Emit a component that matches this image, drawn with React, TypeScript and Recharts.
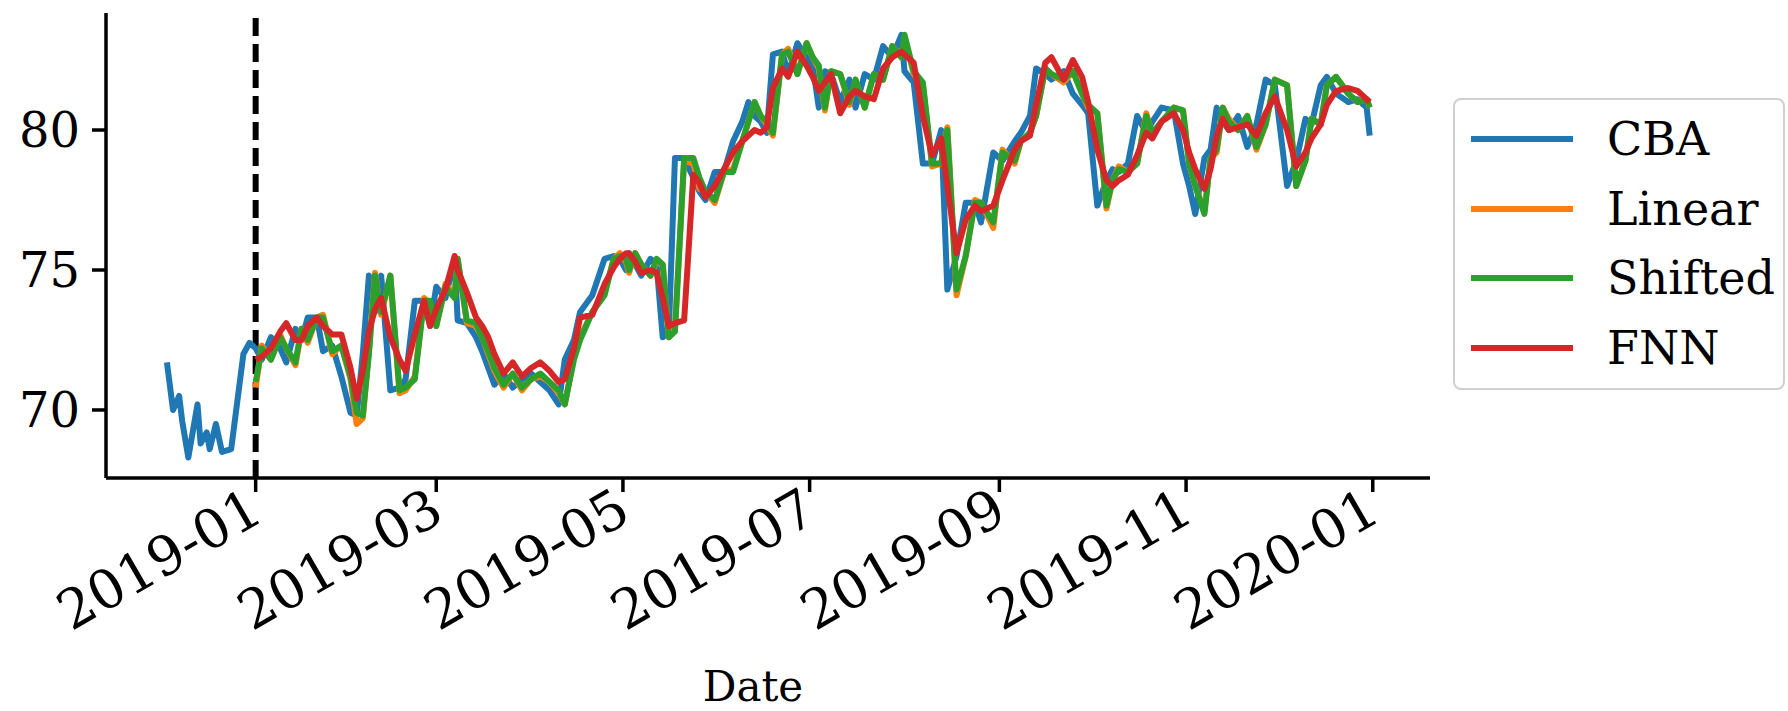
import { LineChart, Line, XAxis, YAxis, ReferenceLine } from "recharts";

const FONT = "'DejaVu Serif', serif";

// day offsets from 2019-01-01
const preDays = [-29, -27, -25, -24, -22, -19, -18, -16, -15, -13, -11, -8, -4, -2];
const preCba = [71.7, 70.0, 70.5, 69.6, 68.3, 70.2, 68.8, 69.2, 68.6, 69.5, 68.5, 68.6, 72.0, 72.4];

const days = [
  0, 2, 5, 8, 10, 13, 15, 17, 20, 22,
  25, 28, 31, 33, 35, 37, 39, 41, 44, 47,
  49, 52, 55, 57, 59, 62, 65, 66, 69, 72,
  74, 76, 78, 81, 84, 87, 90, 93, 96, 99,
  101, 104, 106, 110, 114, 117, 119, 121, 122, 124,
  126, 129, 131, 133, 135, 137, 140, 143, 145, 147,
  150, 153, 156, 159, 161, 163, 165, 167, 169, 172,
  174, 177, 180, 182, 184, 186, 188, 191, 194, 196,
  199, 202, 205, 208, 211, 212, 215, 218, 221, 224,
  226, 229, 232, 235, 237, 241, 244, 248, 250, 253,
  255, 258, 260, 264, 267, 270, 272, 275, 278, 280,
  282, 285, 288, 291, 293, 296, 300, 303, 305, 307,
  310, 312, 314, 316, 318, 321, 324, 327, 330, 333,
  337, 340, 343, 345, 348, 350, 353, 357, 360, 363,
  364,
];

const cba = [
  72.2, 71.8, 72.6, 72.2, 71.7, 72.9, 72.5, 73.3, 73.3, 72.1,
  72.3, 71.2, 69.9, 69.8, 72.0, 74.8, 73.5, 74.8, 70.7, 70.8,
  71.1, 73.9, 73.9, 73.0, 74.4, 74.0, 75.4, 73.2, 73.1, 72.6,
  72.1, 71.5, 70.9, 71.3, 70.8, 71.1, 71.3, 71.0, 70.7, 70.2,
  71.8, 72.5, 73.5, 74.1, 75.4, 75.5, 75.4, 75.0, 75.6, 75.2,
  74.8, 75.4, 75.2, 72.6, 72.8, 79.0, 79.0, 78.3, 77.8, 77.5,
  78.5, 78.5, 79.6, 80.3, 81.0, 80.5, 80.3, 79.9, 82.7, 82.8,
  82.0, 83.1, 82.6, 82.3, 80.8, 82.1, 82.0, 81.0, 81.8, 80.8,
  82.0, 81.8, 83.0, 82.6, 83.4, 82.1, 81.7, 78.8, 78.8, 80.0,
  74.3, 75.5, 77.4, 77.4, 76.7, 79.2, 78.9, 79.6, 79.9, 80.5,
  82.2, 82.0, 81.8, 82.1, 81.3, 80.9, 80.6, 77.3, 78.2, 78.6,
  78.5, 78.8, 80.5, 79.9, 80.3, 80.8, 80.7, 78.8, 78.0, 77.0,
  79.0, 79.3, 80.8, 80.3, 80.0, 80.5, 79.4, 80.2, 81.8, 81.6,
  78.0, 78.9, 80.4, 80.2, 81.6, 81.9, 81.3, 81.0, 81.1, 80.8,
  79.8,
];

const linear = [
  70.8, 72.3, 71.8, 72.7, 72.2, 71.6, 72.9, 72.4, 73.3, 73.4,
  72.0, 72.3, 71.1, 69.5, 69.7, 72.1, 74.9, 73.4, 74.8, 70.6,
  70.7, 71.2, 74.0, 73.8, 73.0, 74.5, 74.1, 75.4, 73.1, 73.0,
  72.6, 72.0, 71.4, 70.8, 71.3, 70.7, 71.1, 71.2, 71.0, 70.6,
  70.2, 71.9, 72.6, 73.5, 74.2, 75.4, 75.6, 75.3, 74.9, 75.6,
  75.2, 74.8, 75.3, 75.2, 72.6, 72.9, 78.9, 78.8, 77.9, 77.8,
  77.4, 78.5, 78.6, 79.6, 80.3, 81.0, 80.5, 80.2, 79.8, 82.7,
  82.9, 82.0, 83.1, 82.6, 82.2, 80.7, 82.1, 82.0, 80.9, 81.8,
  80.8, 82.0, 81.8, 83.0, 82.6, 83.3, 82.0, 81.6, 78.7, 78.8,
  80.1, 74.1, 75.5, 77.5, 77.4, 76.5, 79.3, 78.8, 79.6, 79.9,
  80.5, 82.2, 82.0, 81.7, 82.1, 81.3, 80.8, 80.6, 77.2, 78.2,
  78.7, 78.5, 78.8, 80.6, 79.8, 80.3, 80.8, 80.7, 78.8, 78.0,
  77.1, 79.0, 79.2, 80.8, 80.4, 80.0, 80.5, 79.3, 80.2, 81.8,
  81.6, 78.0, 78.9, 80.4, 80.2, 81.6, 81.9, 81.3, 81.0, 81.1,
  80.8,
];

const shifted = [
  71.0, 72.2, 71.8, 72.6, 72.2, 71.7, 72.9, 72.5, 73.3, 73.3,
  72.1, 72.3, 71.2, 69.9, 69.8, 72.0, 74.8, 73.5, 74.8, 70.7,
  70.8, 71.1, 73.9, 73.9, 73.0, 74.4, 74.0, 75.4, 73.2, 73.1,
  72.6, 72.1, 71.5, 70.9, 71.3, 70.8, 71.1, 71.3, 71.0, 70.7,
  70.2, 71.8, 72.5, 73.5, 74.1, 75.4, 75.5, 75.4, 75.0, 75.6,
  75.2, 74.8, 75.4, 75.2, 72.6, 72.8, 79.0, 79.0, 78.3, 77.8,
  77.5, 78.5, 78.5, 79.6, 80.3, 81.0, 80.5, 80.3, 79.9, 82.7,
  82.8, 82.0, 83.1, 82.6, 82.3, 80.8, 82.1, 82.0, 81.0, 81.8,
  80.8, 82.0, 81.8, 83.0, 82.6, 83.4, 82.1, 81.7, 78.8, 78.8,
  80.0, 74.3, 75.5, 77.4, 77.4, 76.7, 79.2, 78.9, 79.6, 79.9,
  80.5, 82.2, 82.0, 81.8, 82.1, 81.3, 80.9, 80.6, 77.3, 78.2,
  78.6, 78.5, 78.8, 80.5, 79.9, 80.3, 80.8, 80.7, 78.8, 78.0,
  77.0, 79.0, 79.3, 80.8, 80.3, 80.0, 80.5, 79.4, 80.2, 81.8,
  81.6, 78.0, 78.9, 80.4, 80.2, 81.6, 81.9, 81.3, 81.0, 81.1,
  80.8,
];

const fnn = [
  71.8, 71.9, 72.2, 72.8, 73.1, 72.5, 72.5, 73.0, 73.3, 73.0,
  72.7, 72.7, 71.5, 70.4, 71.4, 72.8, 73.6, 74.0, 72.6, 71.8,
  71.4, 72.7, 73.9, 73.0, 73.6, 74.3, 75.5, 75.0, 74.2, 73.3,
  73.0, 72.6, 72.0, 71.3, 71.7, 71.2, 71.5, 71.7, 71.4, 71.0,
  71.1, 72.2, 73.3, 73.4, 74.5, 75.1, 75.4, 75.6, 75.6, 75.3,
  74.9, 75.0, 74.9, 74.0, 73.0, 73.1, 73.2, 78.4, 78.1, 77.6,
  78.0, 78.6, 79.2, 79.6, 79.8, 80.0, 79.9, 80.1, 81.5, 82.2,
  81.9, 82.8, 82.3, 81.9, 81.4, 81.7, 82.0, 80.6, 81.2, 81.4,
  81.2, 81.1, 82.2, 82.6, 82.8, 82.7, 82.4, 80.5, 79.1, 79.7,
  78.0, 75.6, 76.8, 77.3, 77.1, 77.3, 78.2, 79.3, 79.6, 79.8,
  80.9, 82.4, 82.6, 81.8, 82.5, 81.9, 81.0, 79.3, 78.2, 78.0,
  78.2, 78.4, 79.1, 79.9, 79.7, 80.3, 80.6, 80.0, 79.2, 78.6,
  77.9, 78.6, 79.8, 80.4, 80.0, 80.1, 80.2, 79.8, 80.6, 81.2,
  80.0, 78.7, 79.2, 79.7, 80.2, 80.9, 81.4, 81.5, 81.4, 81.1,
  81.0,
];

const tickDays = [0, 59, 120, 181, 243, 304, 365];
const tickLabels = ["2019-01", "2019-03", "2019-05", "2019-07", "2019-09", "2019-11", "2020-01"];
const yTicks = [70, 75, 80];

const series = [
  { key: "cba", name: "CBA", color: "#1f77b4" },
  { key: "linear", name: "Linear", color: "#ff7f0e" },
  { key: "shifted", name: "Shifted", color: "#2ca02c" },
  { key: "fnn", name: "FNN", color: "#d62728" },
];

const data = [
  ...preDays.map((d, i) => ({ day: d, cba: preCba[i], linear: null, shifted: null, fnn: null })),
  ...days.map((d, i) => ({
    day: d,
    cba: cba[i],
    linear: linear[i],
    shifted: shifted[i],
    fnn: fnn[i],
  })),
];

const DateTick = ({ x, y, payload }: any) => {
  const idx = tickDays.indexOf(payload.value);
  return (
    <g transform={`translate(${x},${y})`}>
      <text
        x={0}
        y={0}
        dy={20}
        textAnchor="end"
        transform="rotate(-30)"
        fontSize={54}
        fontFamily={FONT}
        fill="#000"
      >
        {idx >= 0 ? tickLabels[idx] : ""}
      </text>
    </g>
  );
};

const DateLabel = ({ viewBox }: any) => (
  <text
    x={viewBox.x + viewBox.width / 2 - 15}
    y={701}
    textAnchor="middle"
    fontSize={42}
    fontFamily={FONT}
    fill="#000"
  >
    Date
  </text>
);

const LegendBox = () => (
  <div
    style={{
      position: "absolute",
      left: 1453,
      top: 98,
      width: 332,
      height: 292,
      border: "2px solid #d0d0d0",
      borderRadius: 8,
      background: "rgba(255,255,255,0.8)",
      boxSizing: "border-box",
      fontFamily: FONT,
      fontSize: 46,
    }}
  >
    {series.map((s, i) => (
      <div
        key={s.key}
        style={{
          position: "absolute",
          left: 16,
          top: 39 + i * 69.5 - 26,
          height: 52,
          display: "flex",
          alignItems: "center",
          whiteSpace: "nowrap",
        }}
      >
        <span style={{ display: "inline-block", width: 102, height: 6, background: s.color, marginRight: 34 }} />
        <span style={{ color: "#000", lineHeight: "52px" }}>{s.name}</span>
      </div>
    ))}
  </div>
);

export default function App() {
  return (
    <div style={{ position: "absolute", left: 0, top: 0, width: 1788, height: 711, background: "#fff" }}>
      <LineChart width={1788} height={711} data={data} margin={{ top: 13, right: 358, bottom: 0, left: 16 }}>
        <XAxis
          dataKey="day"
          type="number"
          domain={[-48.9, 383.7]}
          ticks={tickDays}
          interval={0}
          height={233}
          tick={<DateTick />}
          tickSize={14}
          tickMargin={10}
          axisLine={{ stroke: "#000", strokeWidth: 3.5 }}
          tickLine={{ stroke: "#000", strokeWidth: 3.5 }}
          allowDataOverflow
          label={<DateLabel />}
        />
        <YAxis
          type="number"
          domain={[67.57, 84.18]}
          ticks={yTicks}
          interval={0}
          width={90}
          tickSize={14}
          tickMargin={12}
          tick={{ fontSize: 48, fill: "#000", fontFamily: FONT }}
          axisLine={{ stroke: "#000", strokeWidth: 3.5 }}
          tickLine={{ stroke: "#000", strokeWidth: 3.5 }}
          allowDataOverflow
        />
        <ReferenceLine x={0} stroke="#000" strokeWidth={6} strokeDasharray="18 8" />
        {series.map((s) => (
          <Line
            key={s.key}
            dataKey={s.key}
            name={s.name}
            type="linear"
            stroke={s.color}
            strokeWidth={6}
            strokeLinejoin="round"
            dot={false}
            activeDot={false}
            connectNulls={false}
            isAnimationActive={false}
          />
        ))}
      </LineChart>
      <LegendBox />
    </div>
  );
}
